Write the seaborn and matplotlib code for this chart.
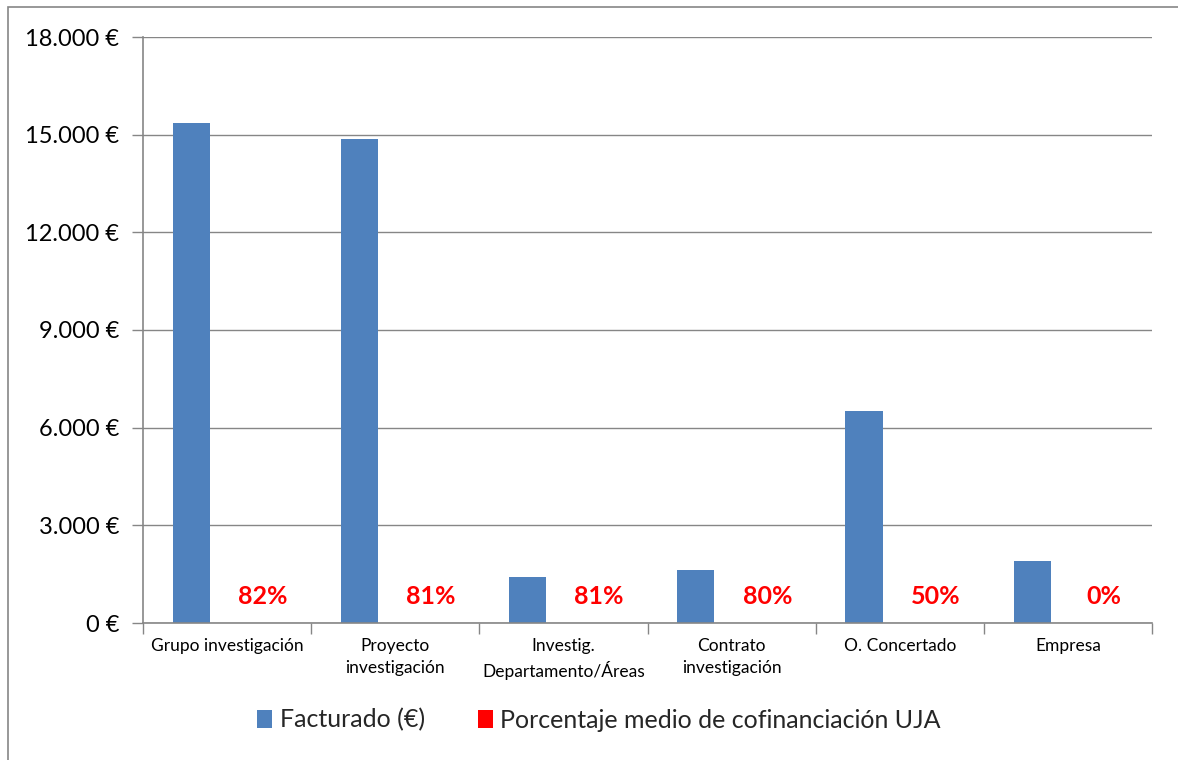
import matplotlib
matplotlib.use("Agg")
import matplotlib.pyplot as plt
import seaborn as sns
import pandas as pd
import numpy as np
from matplotlib.patches import Rectangle, Patch
from matplotlib.ticker import FuncFormatter, FixedLocator

categories = ["Grupo investigación", "Proyecto\ninvestigación", "Investig.\nDepartamento/Áreas",
              "Contrato\ninvestigación", "O. Concertado", "Empresa"]
facturado = [15350, 14870, 1410, 1630, 6510, 1900]
porcentaje = [0.82, 0.81, 0.81, 0.80, 0.50, 0.0]
pct_labels = ["82%", "81%", "81%", "80%", "50%", "0%"]
series = ["Facturado (€)", "Porcentaje medio de cofinanciación UJA"]
yticks = [0, 3000, 6000, 9000, 12000, 15000, 18000]

sns.set_theme(style="white")
plt.rcParams['font.family'] = ['Lato', 'DejaVu Sans']

df = pd.DataFrame({
    "cat": categories * 2,
    "serie": [series[0]] * len(categories) + [series[1]] * len(categories),
    "val": facturado + porcentaje,
})

blue = "#4F81BD"
red = "#FF0000"
grid = "#868686"

fig = plt.figure(figsize=(11.78, 7.60), dpi=100)
ax = fig.add_axes([143/1178, 1-623/760, (1152-143)/1178, (623-37)/760])

sns.barplot(data=df, x="cat", y="val", hue="serie", order=categories, hue_order=series,
            palette=[blue, red], width=0.85, gap=0.48, dodge=True, ax=ax,
            legend=False, saturation=1, edgecolor="none", linewidth=0)

ax.set_xlim(-0.5, len(categories) - 0.5)
ax.set_ylim(0, 18000)
ax.set_yticks(yticks)
ax.yaxis.set_major_formatter(FuncFormatter(lambda v, p: f"{int(v):,}".replace(",", ".") + " €"))
ax.grid(axis="y", color=grid, linewidth=1)
ax.set_axisbelow(True)
ax.set_xlabel("")
ax.set_ylabel("")

for s in ["top", "right"]:
    ax.spines[s].set_visible(False)
for s in ["left", "bottom"]:
    ax.spines[s].set_color(grid)
    ax.spines[s].set_linewidth(1.2)

ax.tick_params(axis="y", which="major", length=8, width=1, color=grid, labelsize=17, pad=9,
               left=True, labelcolor="black")
ax.tick_params(axis="x", which="major", length=0, labelsize=12.5, pad=11, labelcolor="black")
for t in ax.get_xticklabels():
    t.set_linespacing(1.45)
ax.xaxis.set_minor_locator(FixedLocator(np.arange(-0.5, len(categories), 1.0)))
ax.tick_params(axis="x", which="minor", length=8, width=1, color=grid, bottom=True)

# red percentage labels over the red series
red_container = ax.containers[1]
ax.bar_label(red_container, labels=pct_labels, padding=11, color=red,
             fontsize=18, fontweight="bold")

handles = [Patch(facecolor=blue, edgecolor="none"), Patch(facecolor=red, edgecolor="none")]
fig.legend(handles, series, loc="center", bbox_to_anchor=(599/1178, 1-720/760), ncol=2,
           frameon=False, fontsize=18, handlelength=0.6, handleheight=0.75,
           handletextpad=0.3, columnspacing=2.1)

fig.patches.append(Rectangle((8/1178, -0.05), 1.2, 1.05 - 7/760, transform=fig.transFigure,
                             fill=False, edgecolor=grid, linewidth=1.2, zorder=0))

fig.savefig("out.png", dpi=100)
